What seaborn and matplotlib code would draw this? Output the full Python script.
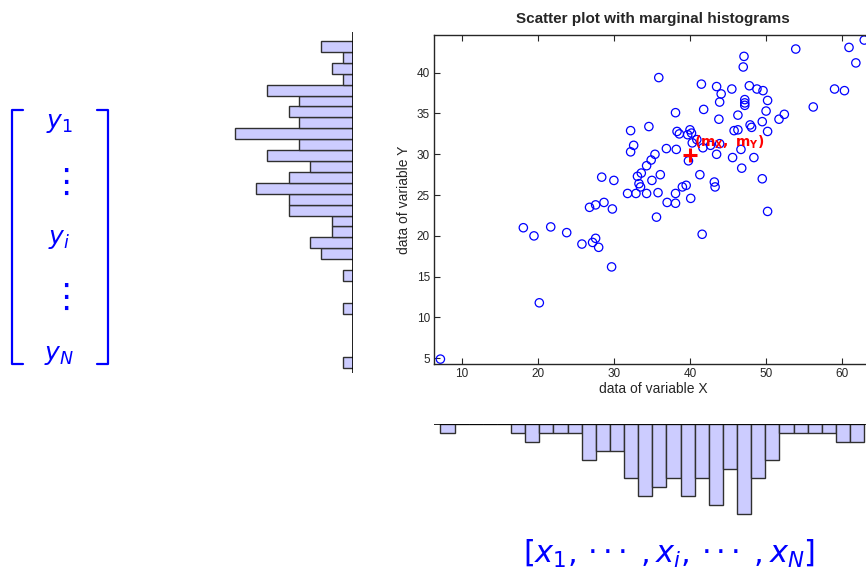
import numpy as np
import pandas as pd
import seaborn as sns
import matplotlib.pyplot as plt
from matplotlib.lines import Line2D

# scatter data
x = [7.2, 20.2, 18.1, 19.5, 21.7, 23.8, 25.8, 27.2, 27.6, 28.0,
     29.7, 26.8, 27.6, 28.7, 29.8, 31.8, 32.9, 34.3, 35.8, 35.6,
     28.4, 30.0, 35.9, 32.2, 34.6, 32.6, 32.2, 35.4, 34.9, 34.3,
     33.6, 33.1, 33.3, 33.5, 35.0, 36.1, 41.5, 38.1, 41.8, 38.3,
     38.6, 40.0, 40.2, 36.9, 38.2, 41.7, 41.3, 43.5, 44.1, 43.9,
     45.5, 47.1, 47.0, 47.8, 48.8, 49.6, 47.2, 47.2, 47.2, 50.2,
     50.0, 52.4, 51.7, 49.5, 50.2, 47.9, 48.1, 46.3, 43.8, 45.8,
     46.3, 43.5, 43.9, 42.7, 46.7, 45.6, 48.4, 46.8, 49.5, 43.2,
     43.3, 39.0, 39.5, 40.1, 38.1, 38.1, 37.0, 50.2, 41.6, 53.9,
     60.9, 61.8, 62.9, 59.0, 60.3, 56.2, 40.9, 39.7, 40.3, 39.8]
y = [4.9, 11.8, 21.0, 20.0, 21.1, 20.4, 19.0, 19.2, 19.7, 18.6,
     16.2, 23.5, 23.8, 24.1, 23.3, 25.2, 25.2, 25.2, 25.3, 22.3,
     27.2, 26.8, 39.4, 32.9, 33.4, 31.1, 30.3, 30.0, 29.3, 28.6,
     27.7, 27.3, 26.4, 26.0, 26.8, 27.5, 38.6, 35.1, 35.5, 32.8,
     32.5, 33.0, 32.6, 30.7, 30.6, 30.8, 27.5, 38.3, 37.4, 36.4,
     38.0, 42.0, 40.7, 38.4, 38.0, 37.8, 36.7, 36.3, 36.0, 36.6,
     35.3, 34.9, 34.3, 34.0, 32.8, 33.6, 33.3, 34.8, 34.3, 32.9,
     33.0, 30.0, 31.3, 31.1, 30.6, 29.6, 29.6, 28.3, 27.0, 26.6,
     26.0, 26.0, 26.2, 24.6, 25.2, 24.0, 24.1, 23.0, 20.2, 42.9,
     43.1, 41.2, 44.0, 38.0, 37.8, 35.8, 31.8, 32.4, 31.4, 29.2]

# marginal histogram counts (30 bins each, low to high)
x_counts = [1, 0, 0, 0, 0, 1, 2, 1, 1, 1, 4, 3, 3, 6, 8,
            7, 6, 8, 6, 9, 5, 10, 6, 4, 1, 1, 1, 1, 2, 2]
y_counts = [1, 0, 0, 0, 0, 1, 0, 0, 1, 0, 3, 4, 2, 2, 6,
            6, 9, 6, 4, 8, 5, 11, 5, 6, 5, 8, 1, 2, 1, 3]

x_ticks = [10, 20, 30, 40, 50, 60]
y_ticks = [5, 10, 15, 20, 25, 30, 35, 40]

sns.set_style("ticks")
plt.rcParams['font.family'] = ['Liberation Sans', 'DejaVu Sans']
plt.rcParams['mathtext.fontset'] = 'dejavusans'

W, H = 866, 571
fig = plt.figure(figsize=(W / 100, H / 100), dpi=100)


def px_axes(left, top, right, bottom):
    return fig.add_axes([left / W, 1 - bottom / H, (right - left) / W, (bottom - top) / H])


x = np.array(x)
y = np.array(y)
hist_color = '#ccccff'
edge = '#303030'

# main scatter
ax = px_axes(434, 35, 872.6, 364)
sns.scatterplot(x=x, y=y, ax=ax, marker='o', s=36, facecolor='none',
                edgecolor='blue', linewidth=0.9)
mx, my = x.mean(), y.mean()
ax.plot(mx, my, '+', color='red', ms=9.5, mew=2.2)
ax.annotate(r'$\mathbf{(m_X,\ m_Y)}$', xy=(mx, my), xytext=(3, 2.5),
            textcoords='offset points', color='red', fontsize=10,
            ha='left', va='bottom')
ax.set_xlim(6.36, 64)
ax.set_ylim(4.3, 44.62)
ax.set_xticks(x_ticks)
ax.set_yticks(y_ticks)
ax.tick_params(direction='in', length=4, width=0.8, labelsize=8.5,
               top=True, right=True, pad=3)
for s in ax.spines.values():
    s.set_linewidth(1.0)
ax.set_xlabel('data of variable X', fontsize=10, labelpad=1)
ax.set_ylabel('data of variable Y', fontsize=10, labelpad=4)
ax.set_title('Scatter plot with marginal histograms', fontsize=11,
             fontweight='bold', pad=9)

# bottom histogram of X (bars hanging down)
x_edges = np.linspace(x.min(), x.max(), 31)
xh = pd.DataFrame({'c': (x_edges[:-1] + x_edges[1:]) / 2, 'n': x_counts})
axb = px_axes(434, 424.3, 872.6, 523.3)
sns.histplot(data=xh, x='c', weights='n', bins=list(x_edges), ax=axb,
             color=hist_color, alpha=1, edgecolor=edge, linewidth=1.0)
axb.set_xlim(ax.get_xlim())
axb.set_ylim(11, 0)
axb.axis('off')
axb.axhline(0, color='black', lw=1.2, xmin=0, xmax=1)

# left histogram of Y (bars pointing left)
y_edges = np.linspace(y.min(), y.max(), 31)
yh = pd.DataFrame({'c': (y_edges[:-1] + y_edges[1:]) / 2, 'n': y_counts})
bw = y_edges[1] - y_edges[0]
axl = px_axes(219.8, 32, 353.3, 372.6)
sns.histplot(data=yh, y='c', weights='n', bins=list(y_edges), ax=axl,
             color=hist_color, alpha=1, edgecolor=edge, linewidth=1.0)
axl.set_xlim(12.4, 0)
axl.set_ylim(y_edges[0] - 0.4 * bw, y_edges[-1] + 0.825 * bw)
axl.axis('off')
axl.axvline(0, color='black', lw=1.2)

# column vector on the left
blue = '#0000ff'
for xs, ys in [([22.5, 11.5, 11.5, 22.5], [109.5, 109.5, 364, 364]),
               ([97, 108, 108, 97], [109.5, 109.5, 364, 364])]:
    fig.add_artist(Line2D([v / W for v in xs], [1 - v / H for v in ys],
                          color=blue, lw=1.6))
for label, yc, fs in [(r'$y_1$', 123, 18), (r'$\vdots$', 183, 24),
                      (r'$y_i$', 239, 18), (r'$\vdots$', 298, 24),
                      (r'$y_N$', 355, 18)]:
    fig.text(59 / W, 1 - yc / H, label, color=blue, fontsize=fs,
             ha='center', va='center')

# row vector at the bottom
fig.text(669 / W, 1 - 562.7 / H,
         r'$\left[x_1,\,{\cdot}\,{\cdot}\,{\cdot}\;\,,x_i,\,{\cdot}\,{\cdot}\,{\cdot}\;\,,x_N\right]$',
         color=blue, fontsize=22, ha='center', va='baseline')

fig.savefig('out.png', dpi=100)
